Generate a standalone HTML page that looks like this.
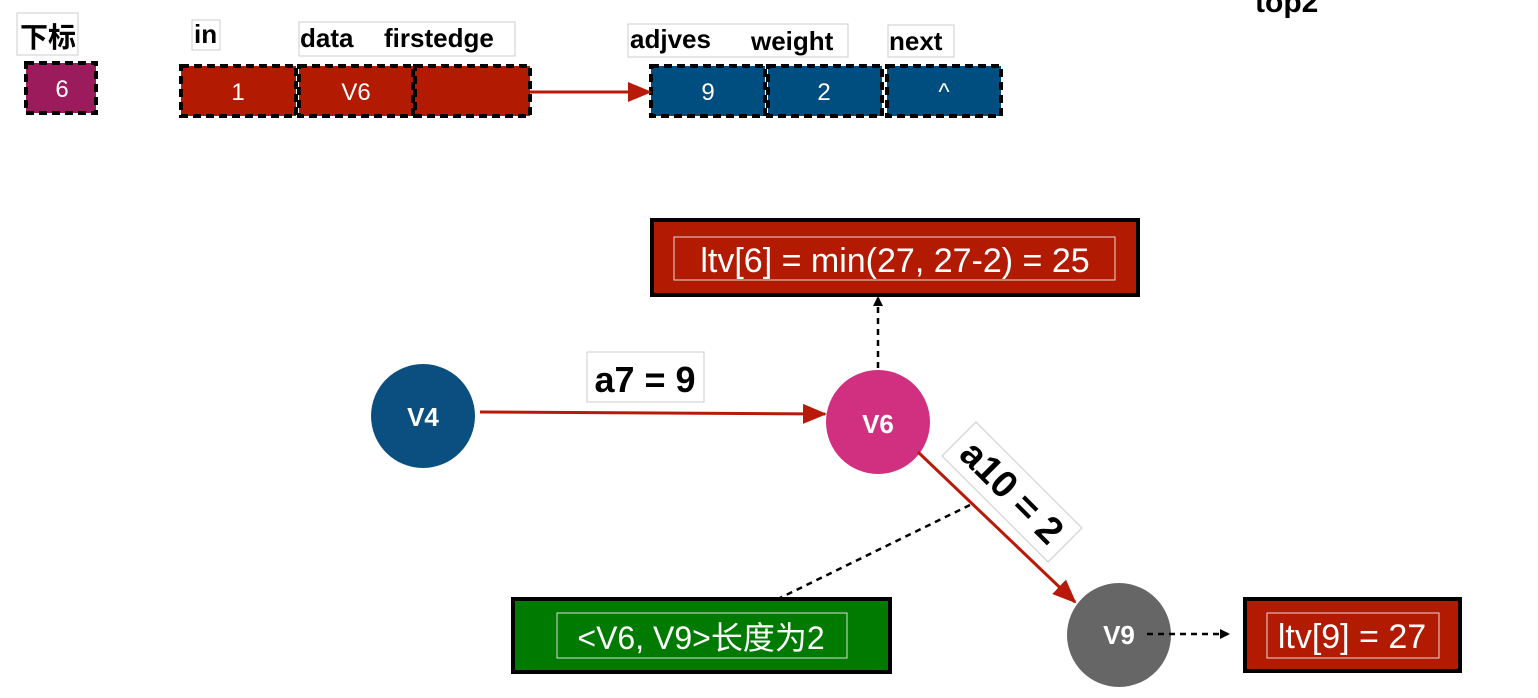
<!DOCTYPE html>
<html><head><meta charset="utf-8"><style>
html,body{margin:0;padding:0;background:#fff;width:1538px;height:698px;overflow:hidden}
text{font-family:"Liberation Sans","Noto Sans CJK SC",sans-serif}
</style></head><body>
<svg width="1538" height="698" viewBox="0 0 1538 698">
<defs>
<marker id="ar" markerWidth="10" markerHeight="10" refX="8" refY="5" orient="auto" markerUnits="userSpaceOnUse"><path d="M0,0 L10,5 L0,10z" fill="#000"/></marker>
<marker id="rr" markerWidth="24" markerHeight="24" refX="22" refY="12" orient="auto" markerUnits="userSpaceOnUse"><path d="M0,2 L24,12 L0,22z" fill="#b81a0a"/></marker>
</defs>
<text x="1255" y="12" font-size="30" font-weight="bold">top2</text>
<!-- labels -->
<rect x="17" y="13" width="61" height="42" fill="none" stroke="#ccc"/>
<text x="20" y="47" font-size="28" font-weight="bold">下标</text>
<rect x="192" y="20" width="28" height="30" fill="none" stroke="#ccc"/>
<text x="194" y="43" font-size="26" font-weight="bold">in</text>
<rect x="299" y="22" width="216" height="34" fill="none" stroke="#ccc"/>
<text x="300" y="47" font-size="26" font-weight="bold">data</text>
<text x="384" y="47" font-size="26" font-weight="bold">firstedge</text>
<rect x="628" y="24" width="220" height="33" fill="none" stroke="#ccc"/>
<text x="630" y="48" font-size="26" font-weight="bold">adjves</text>
<text x="751" y="50" font-size="26" font-weight="bold">weight</text>
<rect x="888" y="25" width="66" height="32" fill="none" stroke="#ccc"/>
<text x="889" y="50" font-size="26" font-weight="bold">next</text>
<!-- boxes -->
<g stroke="#000" stroke-width="4" stroke-dasharray="8,5">
<rect x="26" y="63" width="70" height="50" fill="#9b1b5c"/>
<rect x="181" y="66" width="115" height="50" fill="#b31a02"/>
<rect x="299" y="66" width="114" height="50" fill="#b31a02"/>
<rect x="415" y="66" width="115" height="50" fill="#b31a02"/>
<rect x="651" y="66" width="114" height="50" fill="#004d80"/>
<rect x="768" y="66" width="114" height="50" fill="#004d80"/>
<rect x="887" y="66" width="114" height="50" fill="#004d80"/>
</g>
<g fill="#fff" font-size="24" text-anchor="middle">
<text x="62" y="97">6</text><text x="238" y="100">1</text><text x="356" y="100">V6</text>
<text x="708" y="100">9</text><text x="824" y="100">2</text><text x="944" y="100">^</text>
</g>
<line x1="530" y1="92" x2="650" y2="92" stroke="#b81a0a" stroke-width="3" marker-end="url(#rr)"/>
<!-- ltv6 -->
<rect x="652" y="220" width="486" height="75" fill="#b31a02" stroke="#000" stroke-width="4"/>
<rect x="674" y="237" width="441" height="43" fill="none" stroke="#ddd" stroke-width="1"/>
<text x="895" y="272" font-size="34" fill="#fff" text-anchor="middle">ltv[6] = min(27, 27-2) = 25</text>
<line x1="878" y1="368" x2="878" y2="298" stroke="#000" stroke-width="2.5" stroke-dasharray="6,5" marker-end="url(#ar)"/>
<!-- nodes -->
<circle cx="423" cy="416" r="52" fill="#0b4f80"/>
<circle cx="878" cy="422" r="52" fill="#d0307f"/>
<circle cx="1119" cy="635" r="52" fill="#666"/>
<g fill="#fff" font-size="26" font-weight="bold" text-anchor="middle">
<text x="423" y="426">V4</text><text x="878" y="433">V6</text><text x="1119" y="644">V9</text>
</g>
<line x1="480" y1="412" x2="825" y2="414" stroke="#b81a0a" stroke-width="3" marker-end="url(#rr)"/>
<rect x="587" y="352" width="117" height="50" fill="#fff" stroke="#ccc"/>
<text x="645" y="392" font-size="36" font-weight="bold" text-anchor="middle">a7 = 9</text>
<line x1="918" y1="452" x2="1075" y2="602" stroke="#b81a0a" stroke-width="3" marker-end="url(#rr)"/>
<g transform="translate(1012,492) rotate(45)">
<rect x="-75" y="-24" width="150" height="48" fill="#fff" stroke="#ccc"/>
<text x="0" y="13" font-size="38" font-weight="bold" text-anchor="middle">a10 = 2</text>
</g>
<line x1="970" y1="505" x2="780" y2="598" stroke="#000" stroke-width="2.5" stroke-dasharray="6,5"/>
<rect x="513" y="599" width="377" height="73" fill="#007a00" stroke="#000" stroke-width="4"/>
<rect x="557" y="613" width="290" height="45" fill="none" stroke="#ddd"/>
<text x="701" y="649" font-size="32" fill="#fff" text-anchor="middle">&lt;V6, V9&gt;长度为2</text>
<line x1="1147" y1="634" x2="1228" y2="634" stroke="#000" stroke-width="2.5" stroke-dasharray="6,5" marker-end="url(#ar)"/>
<rect x="1245" y="599" width="215" height="72" fill="#b31a02" stroke="#000" stroke-width="4"/>
<rect x="1267" y="613" width="172" height="45" fill="none" stroke="#ddd"/>
<text x="1352" y="648" font-size="34" fill="#fff" text-anchor="middle">ltv[9] = 27</text>
</svg>
</body></html>
